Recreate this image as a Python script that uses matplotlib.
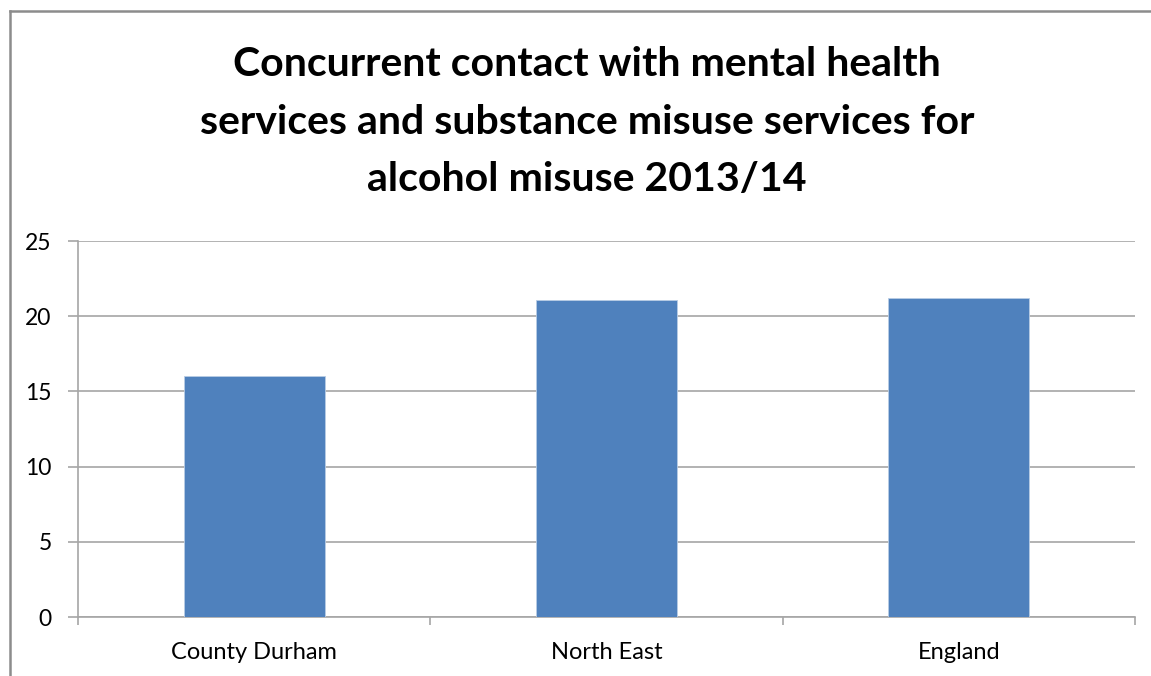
import matplotlib
matplotlib.use("Agg")
import matplotlib.pyplot as plt
from matplotlib.lines import Line2D

categories = ["County Durham", "North East", "England"]
values = [16.0, 21.1, 21.2]
yticks = [0, 5, 10, 15, 20, 25]
title = ("Concurrent contact with mental health\n"
         "services and substance misuse services for\n"
         "alcohol misuse 2013/14")

plt.rcParams['font.family'] = ['Lato', 'DejaVu Sans']

W, H = 1151, 676
fig = plt.figure(figsize=(W / 100, H / 100), dpi=100)
fig.patch.set_facecolor("white")

# axes placement in pixel terms
x0, x1 = 78, 1135
y_top, y_bot = 241, 617
ax = fig.add_axes([x0 / W, 1 - y_bot / H, (x1 - x0) / W, (y_bot - y_top) / H])

grid_c = "#a6a6a6"
pos = list(range(len(categories)))
ax.bar(pos, values, width=0.4, color="#4f81bd", edgecolor="#b9cde5",
       linewidth=0.6, zorder=3)

ax.set_xlim(-0.5, len(categories) - 0.5)
ax.set_ylim(0, 25)
ax.set_yticks(yticks)
ax.set_yticklabels([str(t) for t in yticks], fontsize=16.5)
ax.yaxis.grid(True, color=grid_c, linewidth=1.2, zorder=0)
ax.set_axisbelow(True)

# category labels centred under bars, tick marks on category boundaries
ax.set_xticks([p - 0.5 for p in pos] + [len(categories) - 0.5])
ax.set_xticklabels([])
ax.set_xticks(pos, minor=True)
ax.set_xticklabels(categories, minor=True, fontsize=17)
ax.tick_params(axis="x", which="minor", length=0, pad=18)
ax.tick_params(axis="x", which="major", length=6, color=grid_c, width=1.2)
ax.tick_params(axis="y", length=7, color=grid_c, width=1.2, pad=12)

for side in ("top", "right"):
    ax.spines[side].set_visible(False)
for side in ("left", "bottom"):
    ax.spines[side].set_color(grid_c)
    ax.spines[side].set_linewidth(1.2)

fig.text(587 / W, 1 - 122 / H, title, ha="center", va="center",
         fontsize=29.5, fontweight="bold", linespacing=1.68)

# outer chart frame (top and left edges)
frame_c = "#8c8c8c"
fig.add_artist(Line2D([10 / W, 10 / W], [0, 1 - 11 / H], transform=fig.transFigure,
                      color=frame_c, linewidth=1.8))
fig.add_artist(Line2D([10 / W, 1], [1 - 11 / H, 1 - 11 / H], transform=fig.transFigure,
                      color=frame_c, linewidth=1.8))

fig.savefig("out.png", dpi=100)
